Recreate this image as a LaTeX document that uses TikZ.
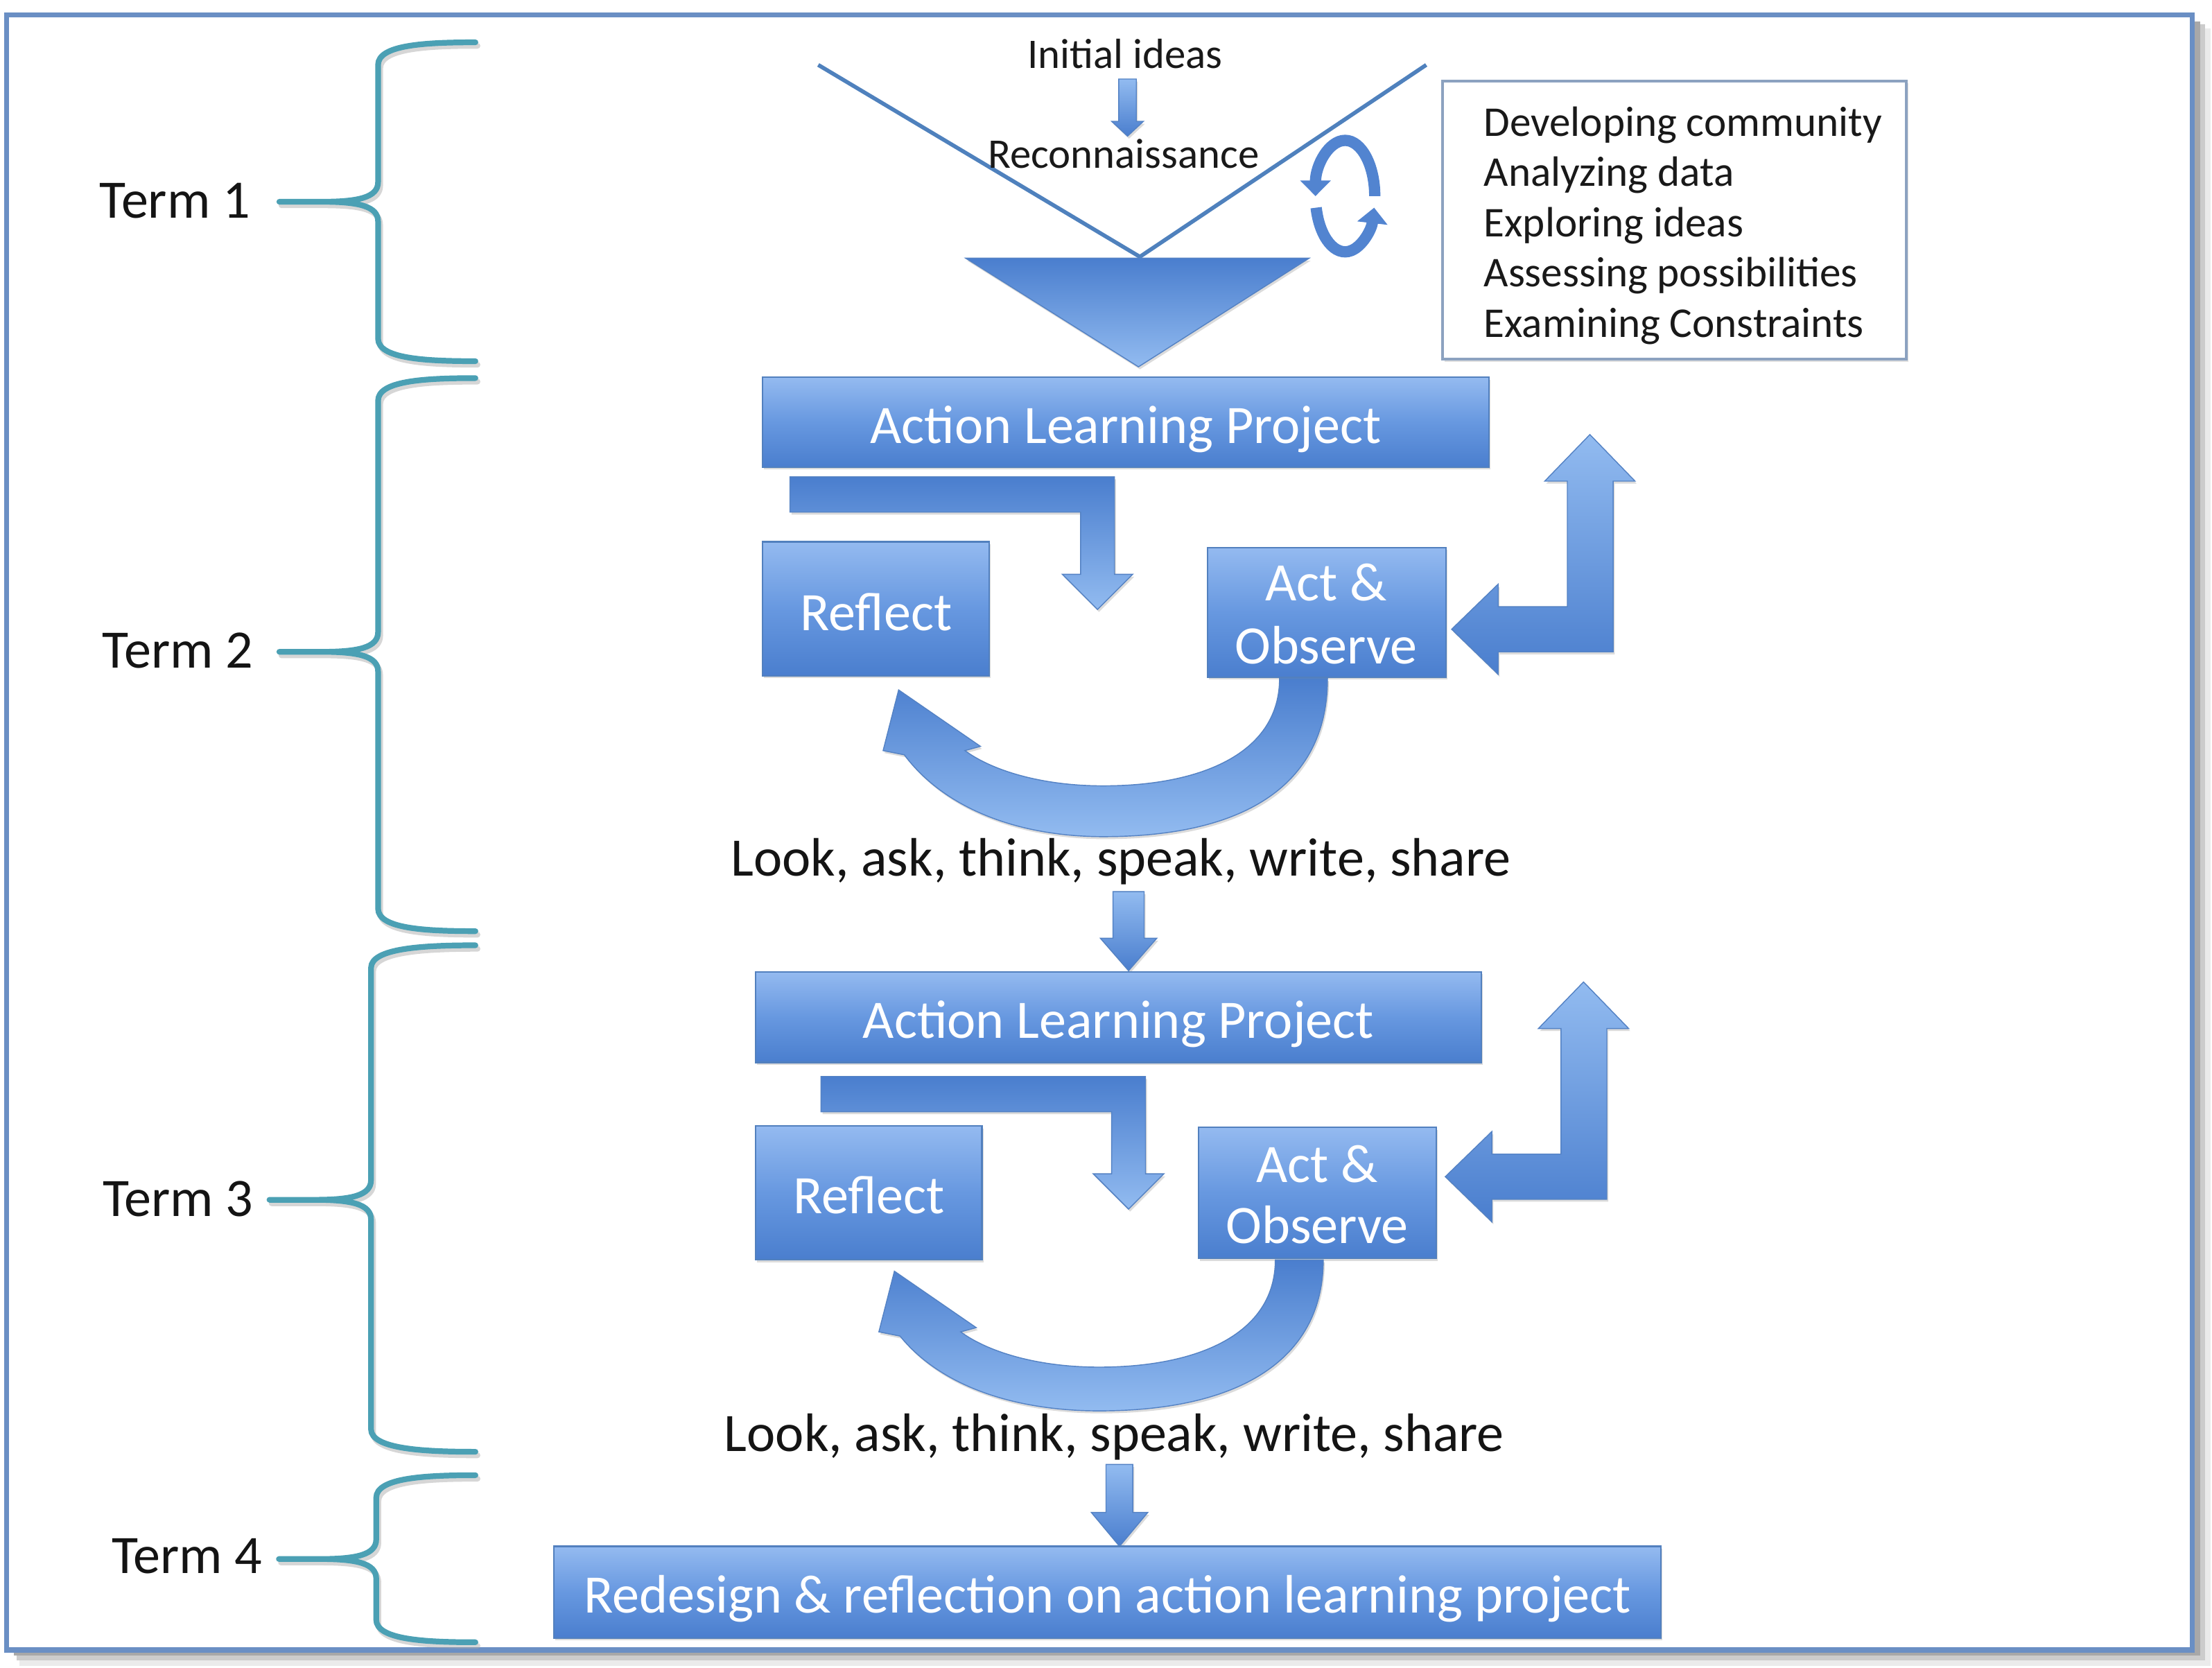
\documentclass[tikz,border=0pt]{standalone}
\usepackage{fontspec}
\setmainfont{Carlito}
\usetikzlibrary{shadows,arrows.meta}
\definecolor{bdark}{RGB}{74,126,206}
\definecolor{blight}{RGB}{146,187,240}
\definecolor{bedge}{RGB}{84,130,196}
\definecolor{boxtop}{RGB}{148,186,240}
\definecolor{boxmid}{RGB}{103,152,224}
\definecolor{boxbot}{RGB}{74,126,206}
\definecolor{boxedge}{RGB}{82,128,190}
\definecolor{frameblue}{RGB}{106,143,196}
\definecolor{bracecol}{RGB}{75,160,180}
\definecolor{vlinecol}{RGB}{79,129,189}
\definecolor{infoedge}{RGB}{140,162,192}
\definecolor{ringcol}{RGB}{82,132,208}
\tikzset{
  bigtxt/.style={font=\fontsize{21.85pt}{26pt}\selectfont},
  smtxt/.style={font=\fontsize{17pt}{20pt}\selectfont, text=black!90},
  infotxt/.style={font=\fontsize{17.1pt}{20pt}\selectfont, text=black!90, inner sep=0pt},
  termtxt/.style={bigtxt, text=black!92, inner sep=0pt},
  boxtxt/.style={bigtxt, text=white, inner sep=0pt},
  bshadow/.style={drop shadow={opacity=0.28, shadow xshift=0.6pt, shadow yshift=-1pt}},
  bluebox/.style={draw=boxedge, line width=0.6pt, top color=boxtop, bottom color=boxbot, middle color=boxmid, inner sep=0pt, bshadow},
  blueA/.style={draw=bedge, line width=0.4pt, top color=bdark, bottom color=blight, bshadow},
  blueB/.style={draw=bedge, line width=0.4pt, top color=blight, bottom color=bdark, bshadow},
  bracesty/.style={draw=bracecol, line width=2.3pt, line cap=round, line join=round},
  braceshadow/.style={draw=black!35, line width=2.3pt, opacity=0.45, line cap=round, line join=round, shift={(1.5,2.5)}},
  vline/.style={draw=vlinecol, line width=1.6pt},
  ringarrow/.style={draw=ringcol, line width=1.6mm, -{Triangle[width=4.2mm,length=2.2mm]}},
  infobox/.style={draw=infoedge, line width=1.1pt, fill=white, inner sep=0pt, drop shadow={opacity=0.25, shadow xshift=0.8pt, shadow yshift=-1pt}}
}
\newcommand{\bracepath}[5]{(337,#1) .. controls (300,#1) and (#4,#1+2) .. (#4,#1+16) -- (#4,#2-14) .. controls (#4,#2-3) and (#4-14,#2) .. (#4-40,#2) -- (#5,#2) -- (#4-40,#2) .. controls (#4-14,#2) and (#4,#2+3) .. (#4,#2+14) -- (#4,#3-16) .. controls (#4,#3-2) and (300,#3) .. (337,#3)}
\begin{document}
\begin{tikzpicture}[x=0.2mm,y=-0.2mm]
\useasboundingbox (0,0) rectangle (1568,1182);
\fill[white] (0,0) rectangle (1568,1182);
% outer frame with shadow
\fill[black!8] (14,20) rectangle (1567,1181);
\fill[black!20] (12,17) rectangle (1563,1177);
\fill[black!34] (10,15) rectangle (1559.5,1173.5);
\filldraw[fill=white, draw=frameblue, line width=2pt] (4.5,10.5) rectangle (1554,1169.5);

% braces
\draw[braceshadow] \bracepath{30}{143}{256}{268}{198};
\draw[bracesty] \bracepath{30}{143}{256}{268}{198};
\draw[braceshadow] \bracepath{268}{462}{660}{268}{198};
\draw[bracesty] \bracepath{268}{462}{660}{268}{198};
\draw[braceshadow] \bracepath{670}{850.4}{1029}{263}{191};
\draw[bracesty] \bracepath{670}{850.4}{1029}{263}{191};
\draw[braceshadow] \bracepath{1045.6}{1105}{1164}{266.7}{197.7};
\draw[bracesty] \bracepath{1045.6}{1105}{1164}{266.7}{197.7};

% term labels
\node[termtxt, anchor=base] (term1) at (124,154.4) {Term 1};
\node[termtxt, anchor=base] (term2) at (126,473.5) {Term 2};
\node[termtxt, anchor=base] (term3) at (126.3,862) {Term 3};
\node[termtxt, anchor=base] (term4) at (132.5,1115) {Term 4};

% reconnaissance funnel
\draw[vline] (580,46) -- (808,182) -- (1011,46);
\path[blueA] (684.5,183) -- (928,183) -- (807,260) -- cycle;
\node[smtxt, anchor=base, inner sep=0pt] (init) at (797.5,48.3) {Initial ideas};
\path[blueB] (793,56) -- (805.5,56) -- (805.5,86) -- (810.5,86) -- (799.25,96.5) -- (788,86) -- (793,86) -- cycle;
\node[smtxt, anchor=base, inner sep=0pt] (recon) at (796.5,119.3) {Reconnaissance};

% cycle arrows
\draw[ringarrow] (974.5,139) arc[start angle=0, end angle=-180, x radius=21, y radius=39.5];
\draw[ringarrow] (932.96,147.2) arc[start angle=168, end angle=12, x radius=21, y radius=39.5];

% info box
\node[infobox, minimum width=65.8mm, minimum height=39.46mm] (info) at (1186.9,155.95) {};
\foreach \t [count=\i] in {Developing community, Analyzing data, Exploring ideas, Assessing possibilities, Examining Constraints}
  \node[infotxt, anchor=base west] (info\i) at (1051.5, {96.5+35.6*(\i-1)}) {\t};

% ---------- Term 2 cycle ----------
\node[bluebox, minimum width=103mm, minimum height=12.7mm] (alp1) at (798,299.25) {};
\node[boxtxt, anchor=base] (alp1t) at (798,314.3) {Action Learning Project};
\node[bluebox, minimum width=32.1mm, minimum height=19mm] (refl1) at (620.75,431.5) {};
\node[boxtxt, anchor=base] (refl1t) at (621,447) {Reflect};
\node[bluebox, minimum width=33.8mm, minimum height=18.4mm] (act1) at (940.5,434) {};
\node[boxtxt, anchor=base] (act1a) at (940,426) {Act \&};
\node[boxtxt, anchor=base] (act1b) at (940,470.7) {Observe};
% bent down arrow
\path[blueA] (560,338) -- (790,338) -- (790,407) -- (803,407) -- (778,432) -- (753,407) -- (766,407) -- (766,363) -- (560,363) -- cycle;
% right bent arrow
\path[blueB] (1127,308) -- (1159,341) -- (1143.5,341) -- (1143.5,462) -- (1062,462) -- (1062,478) -- (1029,446) -- (1062,414) -- (1062,430) -- (1111,430) -- (1111,341) -- (1095,341) -- cycle;
% curved arrow
\path[blueA] (907,481) .. controls (907,533) and (853,557) .. (782,557) .. controls (738,557) and (703,546) .. (684,532) -- (695,529) -- (637,489) -- (626,532) -- (641,535) .. controls (671,575) and (725,593) .. (782,593) .. controls (887,593) and (941,553) .. (941,481) -- cycle;
\node[bigtxt, text=black!92, anchor=base, inner sep=0pt] (look1) at (794.5,621) {Look, ask, think, speak, write, share};
\path[blueB] (789,632) -- (811,632) -- (811,665) -- (820,665) -- (800,688) -- (780,665) -- (789,665) -- cycle;

% ---------- Term 3 cycle ----------
\node[bluebox, minimum width=102.88mm, minimum height=12.86mm] (alp2) at (792.8,720.85) {};
\node[boxtxt, anchor=base] (alp2t) at (792.8,735.7) {Action Learning Project};
\node[bluebox, minimum width=32.08mm, minimum height=19mm] (refl2) at (615.8,845.5) {};
\node[boxtxt, anchor=base] (refl2t) at (616,860) {Reflect};
\node[bluebox, minimum width=33.72mm, minimum height=18.6mm] (act2) at (933.7,845.5) {};
\node[boxtxt, anchor=base] (act2a) at (933.7,838) {Act \&};
\node[boxtxt, anchor=base] (act2b) at (933.7,881.5) {Observe};
\begin{scope}[shift={(22,425)}]
\path[blueA] (560,338) -- (790,338) -- (790,407) -- (803,407) -- (778,432) -- (753,407) -- (766,407) -- (766,363) -- (560,363) -- cycle;
\end{scope}
\begin{scope}[shift={(-4.5,388)}]
\path[blueB] (1127,308) -- (1159,341) -- (1143.5,341) -- (1143.5,462) -- (1062,462) -- (1062,478) -- (1029,446) -- (1062,414) -- (1062,430) -- (1111,430) -- (1111,341) -- (1095,341) -- cycle;
\end{scope}
\path[blueA] (904,893) .. controls (904,945) and (850,969) .. (779,969) .. controls (735,969) and (700,958) .. (681,944) -- (692,941) -- (634,901) -- (623,944) -- (638,947) .. controls (668,984) and (722,1000) .. (779,1000) .. controls (884,1000) and (938,960) .. (938,893) -- cycle;
\node[bigtxt, text=black!92, anchor=base, inner sep=0pt] (look2) at (789.8,1028.5) {Look, ask, think, speak, write, share};
\path[blueB] (784,1038) -- (803,1038) -- (803,1072) -- (813.6,1072) -- (793.6,1096) -- (773.6,1072) -- (784,1072) -- cycle;

% ---------- Term 4 ----------
\node[bluebox, minimum width=157mm, minimum height=13mm] (redesign) at (785,1128.5) {};
\node[boxtxt, anchor=base] (redesignt) at (785,1143) {Redesign \& reflection on action learning project};
\end{tikzpicture}
\end{document}
